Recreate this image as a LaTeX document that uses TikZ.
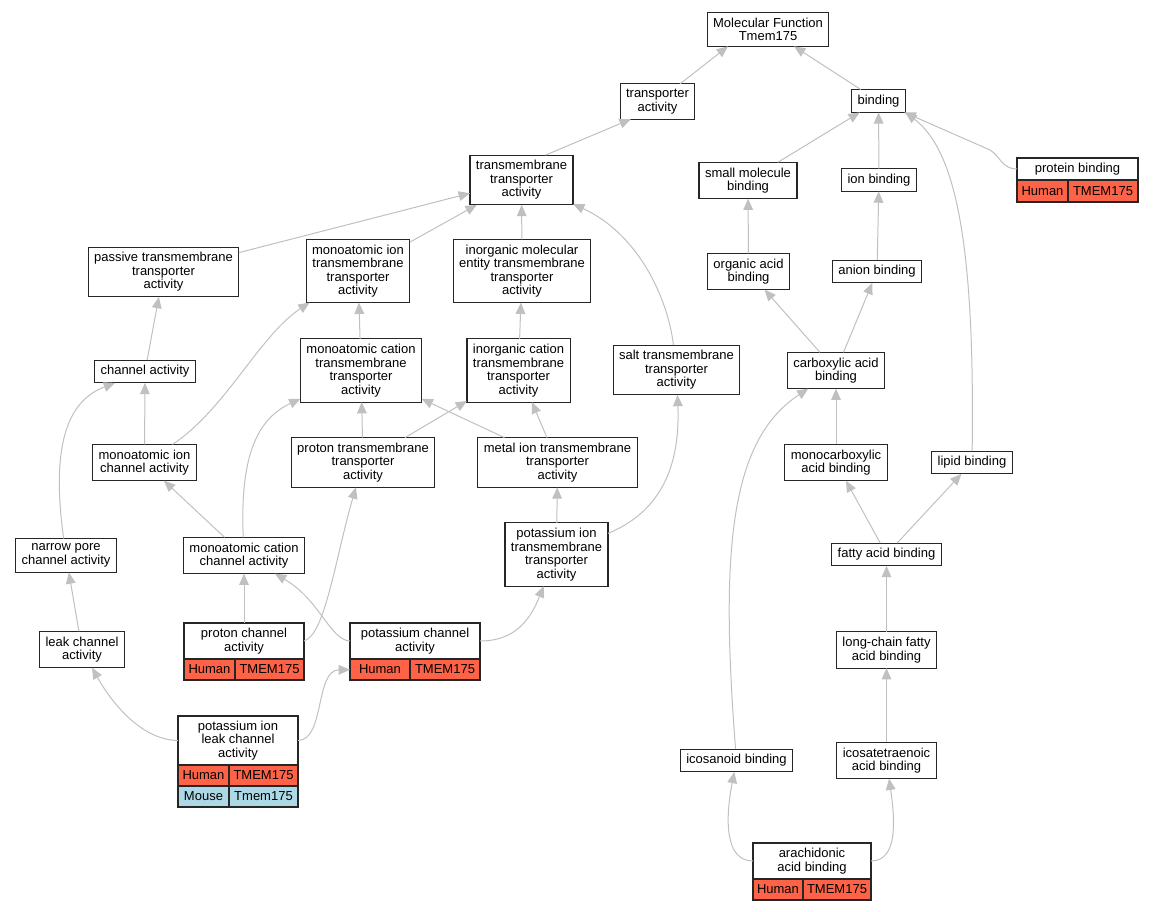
\documentclass[tikz,border=0pt]{standalone}
\usepackage{fontspec}
\setmainfont{Liberation Sans}
\usepackage{tikz}
\usetikzlibrary{positioning}
\usetikzlibrary{shapes.geometric, arrows.meta}
\definecolor{edgegray}{HTML}{C0C0C0}
\definecolor{humanred}{HTML}{FF6347}
\definecolor{mouseblue}{HTML}{ADD8E6}
\tikzstyle{term} = [rectangle, draw=black!85, fill=white, line width=0.8pt, align=center, inner xsep=4.5pt, inner ysep=4pt, outer sep=0pt, font=\fontsize{9.75pt}{10.1pt}\selectfont]
\tikzstyle{annotated} = [term, inner ysep=2pt]
\tikzstyle{human} = [rectangle, draw=black!85, fill=humanred, line width=0.8pt, inner xsep=0pt, inner ysep=0pt, outer sep=0pt, minimum height=15.75pt, font=\fontsize{9.75pt}{10.1pt}\selectfont]
\tikzstyle{mouse} = [human, fill=mouseblue]
\tikzstyle{arrow} = [draw=edgegray, line width=0.75pt, -{Triangle[length=8.5pt, width=7.25pt]}]
\begin{document}
\begin{tikzpicture}[x=0.75pt, y=-0.75pt]

	\useasboundingbox (0,0) rectangle (1153,912);

	\node (molecularFunction) [term] at (768,29.5) {Molecular Function\\Tmem175};
	\node (transporterActivity) [term] at (657.5,101.5) {transporter\\activity};
	\node (binding) [term] at (878.5,101) {binding};

	\node (transmembrane) [term] at (521.5,180) {transmembrane\\transporter\\activity};
	\node (smallMolecule) [term] at (748,180.5) {small molecule\\binding};
	\node (ionBinding) [term] at (879,180) {ion binding};

	\node (proteinBinding) [annotated, minimum width=90.75pt, minimum height=16.5pt] at (1077.5,169) {protein binding};
	\node (proteinBindingHuman) [human, minimum width=38.25pt, minimum height=16.5pt, below right=0pt of proteinBinding.south west] {Human};
	\node (proteinBindingGene) [human, minimum width=52.5pt, minimum height=16.5pt, right=0pt of proteinBindingHuman] {TMEM175};

	\node (passive) [term] at (163.5,272) {passive transmembrane\\transporter\\activity};
	\node (ionTransmembrane) [term] at (358,271) {monoatomic ion\\transmembrane\\transporter\\activity};
	\node (inorganicMolecular) [term] at (522,271) {inorganic molecular\\entity transmembrane\\transporter\\activity};
	\node (organicAcid) [term] at (748.5,271.5) {organic acid\\binding};
	\node (anionBinding) [term] at (877,271.5) {anion binding};

	\node (channelActivity) [term] at (145,371.5) {channel activity};
	\node (cationTransmembrane) [term] at (361,370.5) {monoatomic cation\\transmembrane\\transporter\\activity};
	\node (inorganicCation) [term] at (518.5,370.5) {inorganic cation\\transmembrane\\transporter\\activity};
	\node (saltTransmembrane) [term] at (676.5,370) {salt transmembrane\\transporter\\activity};
	\node (carboxylicAcid) [term] at (836,370.5) {carboxylic acid\\binding};

	\node (ionChannel) [term] at (144.5,462.5) {monoatomic ion\\channel activity};
	\node (protonTransmembrane) [term] at (363,462.5) {proton transmembrane\\transporter\\activity};
	\node (metalIon) [term] at (557.5,462.5) {metal ion transmembrane\\transporter\\activity};
	\node (monocarboxylic) [term] at (836,462.5) {monocarboxylic\\acid binding};
	\node (lipidBinding) [term] at (972,462.5) {lipid binding};

	\node (narrowPore) [term] at (66,555.5) {narrow pore\\channel activity};
	\node (cationChannel) [term] at (244,555.5) {monoatomic cation\\channel activity};
	\node (potassiumTransmembrane) [term] at (556.5,554.5) {potassium ion\\transmembrane\\transporter\\activity};
	\node (fattyAcid) [term] at (886.5,554.5) {fatty acid binding};

	\node (leakChannel) [term] at (82,649.5) {leak channel\\activity};
	\node (longChain) [term] at (886.5,650) {long-chain fatty\\acid binding};

	\node (protonChannel) [annotated, minimum width=90pt, minimum height=27pt] at (244,641) {proton channel\\activity};
	\node (protonChannelHuman) [human, minimum width=38.25pt, below right=0pt of protonChannel.south west] {Human};
	\node (protonChannelGene) [human, minimum width=51.75pt, right=0pt of protonChannelHuman] {TMEM175};

	\node (potassiumChannel) [annotated, minimum width=97.5pt, minimum height=27pt] at (415,641) {potassium channel\\activity};
	\node (potassiumChannelHuman) [human, minimum width=45pt, below right=0pt of potassiumChannel.south west] {Human};
	\node (potassiumChannelGene) [human, minimum width=52.5pt, right=0pt of potassiumChannelHuman] {TMEM175};

	\node (leakActivity) [annotated, minimum width=90pt, minimum height=36.75pt] at (238,740.5) {potassium ion\\leak channel\\activity};
	\node (leakActivityHuman) [human, minimum width=38.25pt, below right=0pt of leakActivity.south west] {Human};
	\node (leakActivityGene) [human, minimum width=51.75pt, right=0pt of leakActivityHuman] {TMEM175};
	\node (leakActivityMouse) [mouse, minimum width=38.25pt, below=0pt of leakActivityHuman] {Mouse};
	\node (leakActivityMouseGene) [mouse, minimum width=51.75pt, right=0pt of leakActivityMouse] {Tmem175};

	\node (icosanoid) [term] at (736.5,760.5) {icosanoid binding};
	\node (icosatetraenoic) [term] at (886.5,760.5) {icosatetraenoic\\acid binding};

	\node (arachidonic) [annotated, minimum width=88.5pt, minimum height=27pt] at (812,861) {arachidonic\\acid binding};
	\node (arachidonicHuman) [human, minimum width=37.5pt, below right=0pt of arachidonic.south west] {Human};
	\node (arachidonicGene) [human, minimum width=51pt, right=0pt of arachidonicHuman] {TMEM175};

	\draw [arrow] (transporterActivity) -- ([xshift=-30pt]molecularFunction.south);
	\draw [arrow] (binding) -- (molecularFunction);
	\draw [arrow] ([xshift=18pt]transmembrane.north) -- ([xshift=-20pt]transporterActivity.south);

	\draw [arrow] (smallMolecule) -- (binding);
	\draw [arrow] (ionBinding) -- (binding);
	\draw [arrow] (proteinBinding.west) .. controls (1002,169) and (1000,156) .. (990,150) -- (binding);
	\draw [arrow] (lipidBinding) .. controls (975,240) and (955,150) .. (binding.south east);

	\draw [arrow] (passive) -- (transmembrane);
	\draw [arrow] (ionTransmembrane) -- (transmembrane);
	\draw [arrow] (inorganicMolecular) -- (transmembrane);
	\draw [arrow] (saltTransmembrane) .. controls (668,300) and (640,235) .. (transmembrane);

	\draw [arrow] (organicAcid) -- (smallMolecule);
	\draw [arrow] (anionBinding) -- (ionBinding);
	\draw [arrow] (carboxylicAcid) -- (organicAcid);
	\draw [arrow] (carboxylicAcid) -- (anionBinding);
	\draw [arrow] (monocarboxylic) -- (carboxylicAcid);

	\draw [arrow] (channelActivity) -- (passive);
	\draw [arrow] (cationTransmembrane) -- (ionTransmembrane);
	\draw [arrow] (inorganicCation) -- (inorganicMolecular);

	\draw [arrow] (ionChannel) -- (channelActivity);
	\draw [arrow] ([xshift=21pt]ionChannel.north) .. controls (225,410) and (260,335) .. (ionTransmembrane);
	\draw [arrow] (protonTransmembrane) -- (cationTransmembrane);
	\draw [arrow] (protonTransmembrane) -- (inorganicCation);
	\draw [arrow] (metalIon) -- (cationTransmembrane);
	\draw [arrow] (metalIon) -- (inorganicCation);

	\draw [arrow] (narrowPore) .. controls (50,440) and (70,400) .. (channelActivity);
	\draw [arrow] (cationChannel) -- (ionChannel);
	\draw [arrow] (cationChannel) .. controls (240,460) and (255,420) .. (cationTransmembrane);
	\draw [arrow] (potassiumTransmembrane) -- (metalIon);
	\draw [arrow] (potassiumTransmembrane) .. controls (665,510) and (680,460) .. (saltTransmembrane);
	\draw [arrow] (fattyAcid) -- (monocarboxylic);
	\draw [arrow] (fattyAcid) -- (lipidBinding);

	\draw [arrow] (leakChannel) -- (narrowPore);
	\draw [arrow] (protonChannel) -- (cationChannel);
	\draw [arrow] (protonChannel.east) .. controls (325,635) and (335,560) .. (protonTransmembrane);
	\draw [arrow] (potassiumChannel.west) .. controls (330,640) and (320,600) .. (cationChannel);
	\draw [arrow] (potassiumChannel.east) .. controls (515,641) and (530,620) .. (potassiumTransmembrane);
	\draw [arrow] (longChain) -- (fattyAcid);

	\draw [arrow] (leakActivity.west) .. controls (140,740) and (110,700) .. (leakChannel);
	\draw [arrow] (leakActivity.east) .. controls (325,740) and (315,670) .. (potassiumChannelHuman);
	\draw [arrow] (icosatetraenoic) -- (longChain);
	\draw [arrow] (icosanoid) .. controls (720,550) and (730,440) .. (carboxylicAcid);

	\draw [arrow] (arachidonic.west) .. controls (725,861) and (725,820) .. (icosanoid);
	\draw [arrow] (arachidonic.east) .. controls (898,861) and (895,820) .. (icosatetraenoic);

\end{tikzpicture}
\end{document}
